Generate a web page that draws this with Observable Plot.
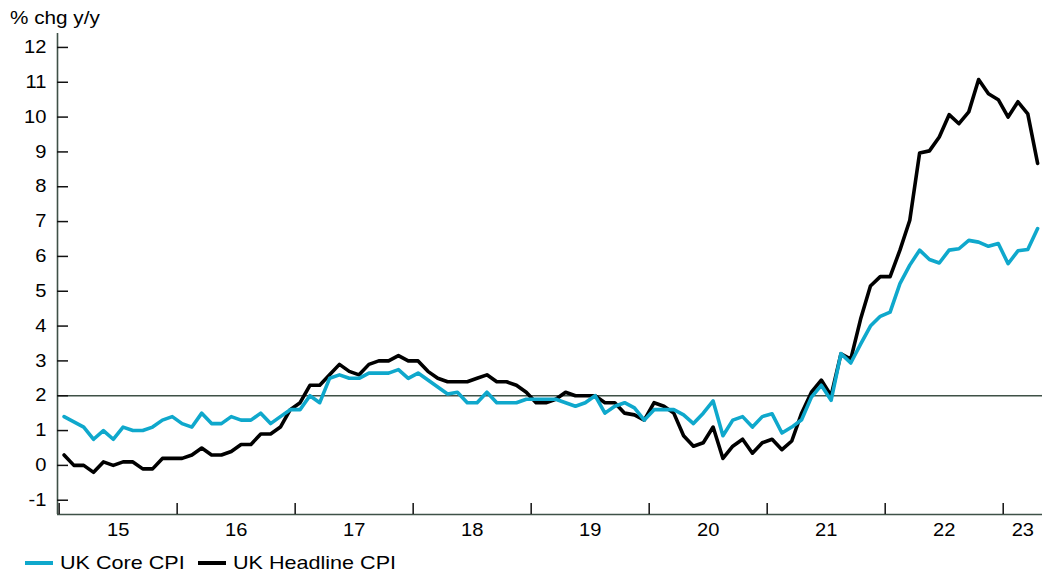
<!DOCTYPE html>
<html>
<head>
<meta charset="utf-8">
<script src="https://cdn.jsdelivr.net/npm/d3@7"></script>
<script src="https://cdn.jsdelivr.net/npm/@observablehq/plot@0.6"></script>
<style>
  html, body { margin: 0; padding: 0; background: #fff; }
  body { width: 1045px; height: 575px; position: relative; overflow: hidden; font-family: "Liberation Sans", Arial, sans-serif; }
  #unit { position: absolute; left: 10px; top: 8px; font-size: 18px; transform: scaleX(1.15); transform-origin: left center; white-space: nowrap; }
  #chart { position: absolute; left: 0; top: 0; }
  #legend { position: absolute; left: 25px; top: 552px; font-size: 18.6px; display: flex; align-items: center; white-space: nowrap; }
  .sw { display: inline-block; width: 28px; height: 4px; margin-right: 7px; }
  .lab { display: inline-block; transform: scaleX(1.16); transform-origin: left center; }
</style>
</head>
<body>
<div id="chart"></div>
<div id="unit">% chg y/y</div>
<div id="legend"></div>
<script>
// ---- data (monthly, Jan 2015 – Apr 2023) ----
const startYear = 2015;
const seriesNames = ["UK Core CPI", "UK Headline CPI"];
const seriesColors = ["#0fa8cc", "#000000"];
const headlineCPI = [
  0.3, 0.0, 0.0, -0.2, 0.1, 0.0, 0.1, 0.1, -0.1, -0.1, 0.2, 0.2,
  0.2, 0.3, 0.5, 0.3, 0.3, 0.4, 0.6, 0.6, 0.9, 0.9, 1.1, 1.6,
  1.8, 2.3, 2.3, 2.6, 2.9, 2.7, 2.6, 2.9, 3.0, 3.0, 3.15, 3.0,
  3.0, 2.7, 2.5, 2.4, 2.4, 2.4, 2.5, 2.6, 2.4, 2.4, 2.3, 2.1,
  1.8, 1.8, 1.9, 2.1, 2.0, 2.0, 2.0, 1.8, 1.8, 1.5, 1.45, 1.3,
  1.8, 1.7, 1.5, 0.85, 0.55, 0.65, 1.1, 0.2, 0.55, 0.75, 0.35, 0.65,
  0.75, 0.45, 0.7, 1.5, 2.1, 2.45, 2.0, 3.2, 3.05, 4.2, 5.15, 5.42,
  5.42, 6.18, 7.04, 8.97, 9.03, 9.43, 10.07, 9.81, 10.15, 11.08, 10.67, 10.5,
  10.0, 10.44, 10.09, 8.67
];
const coreCPI = [
  1.4, 1.25, 1.1, 0.75, 1.0, 0.75, 1.1, 1.0, 1.0, 1.1, 1.3, 1.4,
  1.2, 1.1, 1.5, 1.2, 1.2, 1.4, 1.3, 1.3, 1.5, 1.2, 1.4, 1.6,
  1.6, 2.0, 1.8, 2.5, 2.6, 2.5, 2.5, 2.65, 2.65, 2.65, 2.75, 2.5,
  2.65, 2.45, 2.25, 2.05, 2.1, 1.8, 1.8, 2.1, 1.8, 1.8, 1.8, 1.9,
  1.9, 1.9, 1.9, 1.8, 1.7, 1.8, 2.0, 1.5, 1.7, 1.8, 1.65, 1.3,
  1.6, 1.6, 1.6, 1.45, 1.2, 1.5, 1.85, 0.85, 1.3, 1.4, 1.1, 1.4,
  1.48, 0.93, 1.1, 1.31, 1.96, 2.3, 1.87, 3.21, 2.94, 3.48, 4.0, 4.28,
  4.4, 5.22, 5.75, 6.18, 5.91, 5.81, 6.18, 6.22, 6.46, 6.41, 6.29, 6.37,
  5.79, 6.16, 6.2, 6.8
];
const yearLabels = ["15", "16", "17", "18", "19", "20", "21", "22", "23"];
const yTicks = [-1, 0, 1, 2, 3, 4, 5, 6, 7, 8, 9, 10, 11, 12];
const refLine = 2;

// ---- layout constants ----
const xMin = 2014.986, xMax = 2023.333;
const yMin = -1.41, yMax = 12.4;
const axisColor = "#3f5147";

// ---- build table ----
const rows = [];
coreCPI.forEach((v, i) => rows.push({series: seriesNames[0], t: startYear + (i + 0.5) / 12, v}));
headlineCPI.forEach((v, i) => rows.push({series: seriesNames[1], t: startYear + (i + 0.5) / 12, v}));

const yearTicks = yearLabels.map((_, i) => startYear + i);
const labelPos = yearTicks.map(y => (y + Math.min(y + 1, xMax)) / 2);
const labelMap = new Map(labelPos.map((p, i) => [p, yearLabels[i]]));

const chart = Plot.plot({
  width: 1045,
  height: 545,
  marginTop: 33,
  marginBottom: 31,
  marginLeft: 57,
  marginRight: 3,
  style: {fontFamily: "'Liberation Sans', Arial, sans-serif", fontSize: "17.5px", color: "#000", background: "#fff"},
  x: {domain: [xMin, xMax]},
  y: {domain: [yMin, yMax]},
  color: {domain: seriesNames, range: seriesColors},
  marks: [
    Plot.ruleY([refLine], {stroke: axisColor, strokeWidth: 1.6}),
    Plot.line(rows.filter(d => d.series === seriesNames[1]), {x: "t", y: "v", stroke: "series", strokeWidth: 3.6}),
    Plot.line(rows.filter(d => d.series === seriesNames[0]), {x: "t", y: "v", stroke: "series", strokeWidth: 3.6}),
    Plot.ruleX([xMin], {stroke: axisColor, strokeWidth: 1.6}),
    Plot.ruleY([yMin], {stroke: axisColor, strokeWidth: 1.6}),
    Plot.axisY(yTicks, {tickSize: 0, tickPadding: 11, tickFormat: d => String(d), label: null}),
    Plot.axisY(yTicks, {tickSize: -11, text: null, label: null, stroke: "#111", strokeWidth: 1.5}),
    Plot.axisX(labelPos, {tickSize: 0, tickPadding: 9, tickFormat: d => labelMap.get(d), label: null}),
    Plot.axisX(yearTicks, {tickSize: -11, text: null, label: null, stroke: "#111", strokeWidth: 1.5})
  ]
});
document.getElementById("chart").appendChild(chart);

// stretch tick label text horizontally to match the reference typography
chart.querySelectorAll("g[aria-label$='tick label'] text").forEach(t => {
  const tr = t.getAttribute("transform") || "";
  t.setAttribute("transform", tr + " scale(1.15,1)");
});

// legend
const legend = document.getElementById("legend");
seriesNames.forEach((name, i) => {
  const item = document.createElement("span");
  item.style.display = "inline-flex";
  item.style.alignItems = "center";
  item.style.width = i === 0 ? "173px" : "auto";
  item.innerHTML = `<span class="sw" style="background:${seriesColors[i]}"></span><span class="lab">${name}</span>`;
  legend.appendChild(item);
});
</script>
</body>
</html>
